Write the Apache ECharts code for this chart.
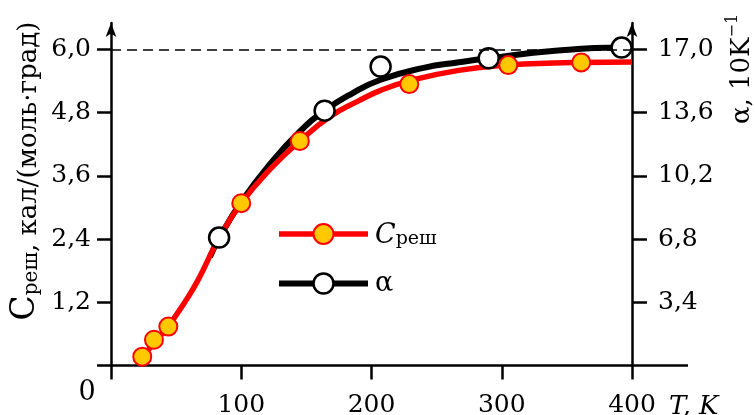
<!DOCTYPE html>
<html><head><meta charset="utf-8">
<script src="https://cdn.jsdelivr.net/npm/echarts@6/dist/echarts.min.js"></script>
<style>html,body{margin:0;padding:0;background:#fff}#c{width:755px;height:415px}</style>
</head><body><div id="c"></div>
<script>
// C_lattice fitted curve (T, K -> cal/(mol·deg))
const cCurveT = [24, 33, 44, 56, 67, 83, 100, 122, 145, 168, 190, 207, 229, 267, 305, 340, 361, 400];
const cCurveV = [0.15, 0.43, 0.75, 1.18, 1.63, 2.42, 3.08, 3.72, 4.26, 4.72, 5.02, 5.22, 5.40, 5.60, 5.70, 5.74, 5.75, 5.76];
// alpha fitted curve (right axis)
const aCurveT = [76, 83, 100, 122, 145, 164, 185, 207, 240, 267, 290, 341, 392, 400];
const aCurveV = [5.84, 6.84, 8.80, 10.82, 12.58, 13.70, 14.62, 15.36, 16.00, 16.30, 16.52, 16.92, 17.09, 17.09];
// measured points
const cPtsT = [24, 33, 44, 100, 145, 229, 305, 361];
const cPtsV = [0.17, 0.49, 0.74, 3.08, 4.26, 5.34, 5.70, 5.75];
const aPtsT = [83, 164, 207, 290, 392];
const aPtsV = [6.88, 13.70, 16.07, 16.52, 17.09];
// tick labels
const xTicks = [100, 200, 300, 400];
const yLeftTicks = [1.2, 2.4, 3.6, 4.8, 6.0];
const yRightTicks = [3.4, 6.8, 10.2, 13.6, 17.0];
const dashLevel = 6.0;
const yLeftMax = 6.5;
const yRightMax = yLeftMax * 17 / 6;

const FONT = 'DejaVu Serif';
const pairs = (xs, ys) => xs.map((x, i) => [x, ys[i]]);
const fmt = v => Number(v).toFixed(1).replace('.', ',');

const chart = echarts.init(document.getElementById('c'), null, {renderer: 'canvas'});
const axisLineStyle = {color: '#000', width: 2.5};

chart.setOption({
  animation: false,
  backgroundColor: '#fff',
  grid: {left: 111, right: 123, top: 22.9, bottom: 49.4, containLabel: false, outerBoundsMode: 'none'},
  legend: {
    orient: 'vertical', left: 276, top: 222, padding: 0, itemWidth: 89, itemHeight: 25, itemGap: 21,
    data: ['Cреш', 'α'],
    lineStyle: {width: 'inherit'},
    itemStyle: {borderWidth: 'inherit'},
    formatter: name => name === 'Cреш' ? '{c|C}{s|реш}' : '{a|α}',
    textStyle: {
      fontFamily: FONT, color: '#000',
      rich: {
        c: {fontFamily: FONT, fontStyle: 'italic', fontSize: 27, lineHeight: 30, verticalAlign: 'bottom', padding: [0, 0, 0, 2]},
        s: {fontFamily: FONT, fontSize: 19, lineHeight: 19, verticalAlign: 'bottom'},
        a: {fontFamily: FONT, fontSize: 27, padding: [0, 0, 0, 2]}
      }
    }
  },
  xAxis: {
    type: 'value', min: 0, max: 400,
    axisLine: {show: true, onZero: false, lineStyle: axisLineStyle},
    axisTick: {show: true, length: 14, customValues: [0].concat(xTicks), lineStyle: axisLineStyle},
    axisLabel: {customValues: xTicks, margin: 27, fontFamily: FONT, fontSize: 25, color: '#000'},
    splitLine: {show: false}
  },
  yAxis: [{
    type: 'value', min: 0, max: yLeftMax, position: 'left',
    axisLine: {show: true, onZero: false, symbol: ['none', 'arrow'], symbolSize: [8, 14], lineStyle: axisLineStyle},
    axisTick: {show: true, length: 14, customValues: [0].concat(yLeftTicks), lineStyle: axisLineStyle},
    axisLabel: {customValues: yLeftTicks, margin: 20, formatter: fmt, fontFamily: FONT, fontSize: 25, color: '#000'},
    splitLine: {show: false}
  }, {
    type: 'value', min: 0, max: yRightMax, position: 'right',
    axisLine: {show: true, onZero: false, symbol: ['none', 'arrow'], symbolSize: [8, 14], lineStyle: axisLineStyle},
    axisTick: {show: true, length: 15, customValues: yRightTicks, lineStyle: axisLineStyle},
    axisLabel: {customValues: yRightTicks, margin: 26, formatter: fmt, fontFamily: FONT, fontSize: 25, color: '#000'},
    splitLine: {show: false}
  }],
  series: [{
    name: 'α', type: 'line', yAxisIndex: 1, z: 2, smooth: 0.5,
    data: pairs(aCurveT, aCurveV), showSymbol: false, symbol: 'circle',
    lineStyle: {color: '#000', width: 6},
    itemStyle: {color: '#fff', borderColor: '#000', borderWidth: 2.5}
  }, {
    name: 'Cреш', type: 'line', yAxisIndex: 0, z: 3, smooth: 0.5,
    data: pairs(cCurveT, cCurveV), showSymbol: false, symbol: 'circle',
    lineStyle: {color: '#ff0000', width: 5.5},
    itemStyle: {color: '#ffc800', borderColor: '#ff0000', borderWidth: 2},
    markLine: {
      silent: true, symbol: 'none', label: {show: false},
      lineStyle: {color: '#000', type: [10, 6], width: 1.5},
      data: [{yAxis: dashLevel}]
    }
  }, {
    name: 'α pts', type: 'scatter', yAxisIndex: 1, z: 4,
    data: pairs(aPtsT, aPtsV), symbol: 'circle', symbolSize: 20,
    itemStyle: {color: '#fff', borderColor: '#000', borderWidth: 2.5, opacity: 1}
  }, {
    name: 'Cреш pts', type: 'scatter', yAxisIndex: 0, z: 5,
    data: pairs(cPtsT, cPtsV), symbol: 'circle', symbolSize: 18,
    itemStyle: {color: '#ffc800', borderColor: '#ff0000', borderWidth: 2, opacity: 1}
  }]
});

const o = chart.convertToPixel({gridIndex: 0}, [0, 0]);
const pEnd = chart.convertToPixel({gridIndex: 0}, [400, 0]);
chart.setOption({
  graphic: [
    {type: 'line', shape: {x1: pEnd[0], y1: pEnd[1], x2: pEnd[0] + 56, y2: pEnd[1]}, style: {stroke: '#000', lineWidth: 2.5}},
    {type: 'text', x: o[0] - 24, y: o[1] + 27, style: {text: '0', font: '27px "DejaVu Serif"', fill: '#000', align: 'center', verticalAlign: 'middle'}},
    {type: 'text', x: pEnd[0] + 37, y: o[1] + 42, style: {text: 'T, K', font: 'italic 26px "DejaVu Serif"', fill: '#000', align: 'left', verticalAlign: 'middle'}},
    {type: 'text', x: 24, y: 171, rotation: Math.PI / 2, style: {
      text: '{c|C}{s|реш}{n|, кал/(моль·град)}', align: 'center', verticalAlign: 'middle', fill: '#000',
      rich: {
        c: {fontFamily: FONT, fontSize: 33, lineHeight: 36, verticalAlign: 'bottom'},
        s: {fontFamily: FONT, fontSize: 20, lineHeight: 20, verticalAlign: 'bottom'},
        n: {fontFamily: FONT, fontSize: 26, lineHeight: 30, verticalAlign: 'bottom'}
      }
    }},
    {type: 'text', x: 740, y: 69, rotation: Math.PI / 2, style: {
      text: '{n|α, 10K}{p|−1}', align: 'center', verticalAlign: 'middle', fill: '#000',
      rich: {
        n: {fontFamily: FONT, fontSize: 26, lineHeight: 30, verticalAlign: 'bottom'},
        p: {fontFamily: FONT, fontSize: 16, lineHeight: 16, verticalAlign: 'top'}
      }
    }}
  ]
});
</script>
</body></html>
